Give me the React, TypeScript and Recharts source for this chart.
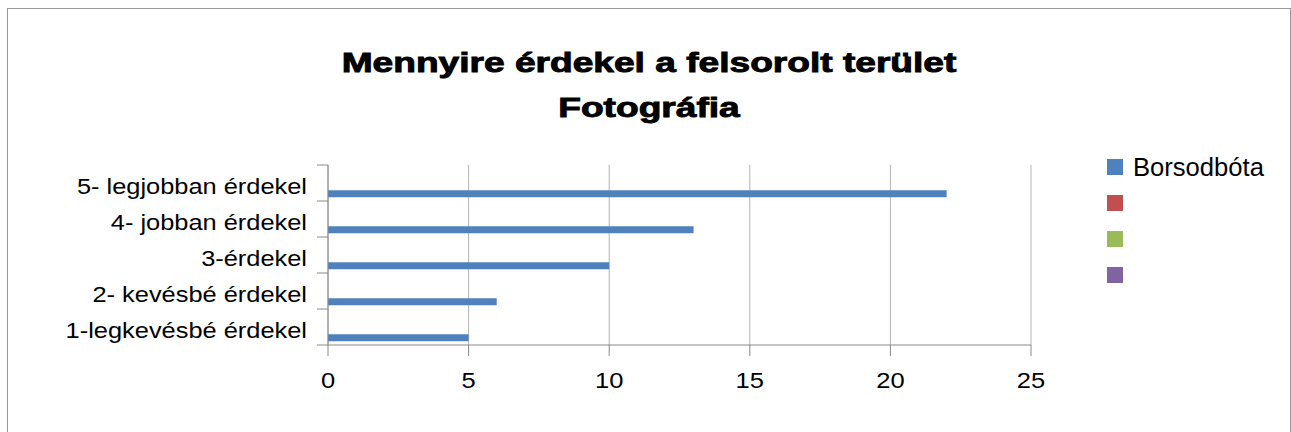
import { BarChart, Bar, XAxis, YAxis, CartesianGrid } from 'recharts';

// categories top to bottom, values for the single filled series
const categories = [
  '5- legjobban érdekel',
  '4- jobban érdekel',
  '3-érdekel',
  '2- kevésbé érdekel',
  '1-legkevésbé érdekel',
];
const borsodbota = [22, 13, 10, 6, 5];

const seriesNames = ['Borsodbóta', '', '', ''];
const seriesKeys = ['s1', 's2', 's3', 's4'];
const seriesColors = ['#4F81BD', '#C0504D', '#9BBB59', '#8064A2'];

const xTicks = [0, 5, 10, 15, 20, 25];
const titleLines = ['Mennyire érdekel a felsorolt terület', 'Fotográfia'];

const W = 1291;
const H = 432;
const M = { top: 165, right: 260, bottom: 27, left: 8 };
const PLOT_H = H - M.top - M.bottom - 60;
const BAND = PLOT_H / categories.length;
const FONT = '"Liberation Sans", Arial, sans-serif';

const data = categories.map((name, i) => ({ name, s1: borsodbota[i] }));

const CatTick = (props: any) => {
  const { x, y, payload, index } = props;
  return (
    <g>
      <line x1={x} x2={x + 11} y1={y + BAND / 2} y2={y + BAND / 2} stroke="#888" />
      {index === 0 && <line x1={x} x2={x + 11} y1={y - BAND / 2} y2={y - BAND / 2} stroke="#888" />}
      <text
        transform={`translate(${x - 10},${y + 10.5}) scale(1.155,1)`}
        textAnchor="end"
        fontSize={22}
        fontFamily={FONT}
        fill="#000"
      >
        {payload.value}
      </text>
    </g>
  );
};

const NumTick = (props: any) => {
  const { x, y, payload } = props;
  return (
    <text
      transform={`translate(${x},${y + 32}) scale(1.16,1)`}
      textAnchor="middle"
      fontSize={22}
      fontFamily={FONT}
      fill="#000"
    >
      {payload.value}
    </text>
  );
};

export default function App() {
  return (
    <div style={{ position: 'absolute', left: 0, top: 0, width: W, height: H, overflow: 'hidden', background: '#fff' }}>
      <div style={{ position: 'absolute', left: 7, top: 8, width: 1282, height: 460, border: '1px solid #999' }} />
      <div style={{ position: 'absolute', left: 0, top: 0 }}>
        <BarChart width={W} height={H} data={data} layout="vertical" margin={M} barCategoryGap={4.3} barGap={0}>
          <CartesianGrid horizontal={false} stroke="#b3b3b3" />
          <XAxis
            type="number"
            domain={[0, 25]}
            ticks={xTicks}
            height={60}
            stroke="#888"
            tickSize={11}
            tickMargin={0}
            tick={<NumTick />}
            interval={0}
          />
          <YAxis
            type="category"
            dataKey="name"
            width={320}
            stroke="#888"
            tickLine={false}
            tickSize={11}
            tickMargin={0}
            tick={<CatTick />}
            interval={0}
          />
          {/* empty series first so Borsodbóta sits at the bottom of each group, like Excel */}
          {[3, 2, 1, 0].map(i => (
            <Bar key={seriesKeys[i]} dataKey={seriesKeys[i]} fill={seriesColors[i]} isAnimationActive={false} />
          ))}
        </BarChart>
      </div>
      <svg width={W} height={H} style={{ position: 'absolute', left: 0, top: 0, pointerEvents: 'none' }}>
        {titleLines.map((t, i) => (
          <text
            key={i}
            transform={`translate(649,${72 + i * 45}) scale(1.35,1)`}
            textAnchor="middle"
            fontSize={27.5}
            fontWeight="bold"
            fontFamily={FONT}
            fill="#000"
            stroke="#000"
            strokeWidth={0.9}
          >
            {t}
          </text>
        ))}
        {seriesNames.map((n, i) => (
          <g key={i}>
            <rect x={1107} y={159 + i * 36} width={16} height={16} fill={seriesColors[i]} />
            {n && (
              <text x={1133} y={176 + i * 36} fontSize={25.6} fontFamily={FONT} fill="#000">
                {n}
              </text>
            )}
          </g>
        ))}
      </svg>
    </div>
  );
}
